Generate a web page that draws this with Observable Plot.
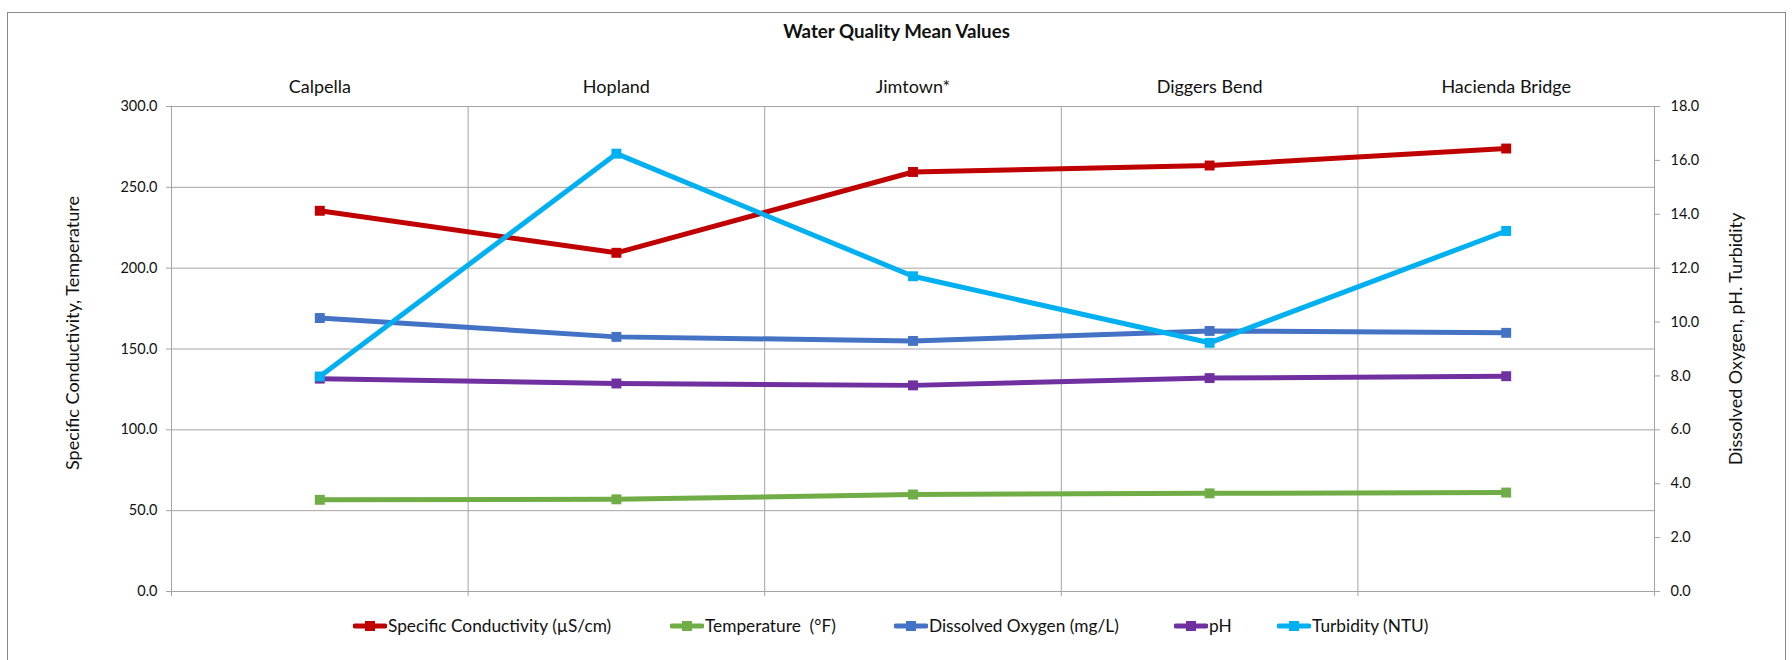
<!DOCTYPE html>
<html>
<head>
<meta charset="utf-8">
<script src="https://cdn.jsdelivr.net/npm/d3@7"></script>
<script src="https://cdn.jsdelivr.net/npm/@observablehq/plot@0.6"></script>
<style>
  html, body { margin: 0; padding: 0; background: #fff; }
  #root { position: relative; width: 1792px; height: 660px; overflow: hidden; font-family: Lato, "Open Sans", sans-serif; color: #111; }
  #frame { position: absolute; left: 7px; top: 12px; width: 1779px; height: 720px; border: 1px solid #8a8a8a; box-sizing: border-box; }
  #chart { position: absolute; left: 0; top: 0; }
  .title { position: absolute; left: 7px; width: 1779px; top: 19px; line-height: 24px; text-align: center; font-weight: bold; font-size: 18.7px; }
  .ytitle { position: absolute; white-space: nowrap; font-size: 18px; line-height: 22px; transform: translate(-50%, -50%) rotate(-90deg); }
  .leg { position: absolute; top: 614px; height: 24px; line-height: 24px; font-size: 17.3px; white-space: pre; display: flex; align-items: center; }
  .leg svg { display: block; margin-right: 1px; }
</style>
</head>
<body>
<div id="root">
  <div id="frame"></div>
  <div id="chart"></div>
  <div class="title">Water Quality Mean Values</div>
  <div class="ytitle" id="ytl" style="left:72px; top:333px;">Specific Conductivity, Temperature</div>
  <div class="ytitle" id="ytr" style="left:1735px; top:339px;">Dissolved Oxygen, pH. Turbidity</div>
  <div id="legend"></div>
</div>
<script>
// ---- data ----
const sites = ["Calpella", "Hopland", "Jimtown*", "Diggers Bend", "Hacienda Bridge"];
const conductivity   = [235.5, 209.5, 259.5, 263.5, 274.0];   // µS/cm, left axis
const temperature    = [56.7, 57.0, 60.0, 60.7, 61.2];        // °F, left axis
const dissolvedOxygen = [10.15, 9.45, 9.3, 9.67, 9.6];        // mg/L, right axis
const pHValues       = [7.9, 7.72, 7.65, 7.92, 7.99];         // right axis
const turbidity      = [7.98, 16.25, 11.7, 9.23, 13.38];      // NTU, right axis
const leftTicks  = [0, 50, 100, 150, 200, 250, 300];
const rightTicks = [0, 2, 4, 6, 8, 10, 12, 14, 16, 18];
const seriesNames = ["Specific Conductivity (µS/cm)", "Temperature  (°F)", "Dissolved Oxygen (mg/L)", "pH", "Turbidity (NTU)"];
const seriesColors = ["#C00000", "#70AD47", "#4472C4", "#7030A0", "#00B0F0"];
const seriesValues = [conductivity, temperature, dissolvedOxygen, pHValues, turbidity];
const seriesAxis = ["left", "left", "right", "right", "right"];

// secondary axis (0–18) mapped onto primary (0–300)
const leftMax = 300, rightMax = 18;
const k = leftMax / rightMax;

const series = seriesNames.map((name, s) => ({
  name,
  color: seriesColors[s],
  rows: seriesValues[s].map((v, i) => ({
    site: sites[i],
    x: i + 0.5,
    y: seriesAxis[s] === "right" ? v * k : v
  }))
}));

const gridColor = "#a3a3a3";
const marks = [
  Plot.gridX({ticks: d3.range(0, sites.length + 1), stroke: gridColor, strokeOpacity: 1}),
  Plot.gridY({ticks: leftTicks, stroke: gridColor, strokeOpacity: 1}),
  Plot.axisX({anchor: "bottom", ticks: d3.range(0, sites.length + 1), tickSize: 5, tickFormat: () => "", stroke: gridColor, label: null}),
  Plot.axisX({anchor: "top", ticks: sites.map((_, i) => i + 0.5), tickFormat: d => sites[Math.round(d - 0.5)], tickSize: 0, tickPadding: 14, fontSize: 18, fill: "#111", label: null}),
  Plot.axisY({anchor: "left", ticks: leftTicks, tickFormat: d => d.toFixed(1), tickSize: 5, tickPadding: 9, stroke: gridColor, fill: "#111", fontSize: 14.5, label: null}),
  Plot.axisY({anchor: "right", ticks: rightTicks.map(v => v * k), tickFormat: d => (d / k).toFixed(1), tickSize: 5, tickPadding: 11, stroke: gridColor, fill: "#111", fontSize: 14.5, label: null})
];
for (const s of series) {
  marks.push(Plot.line(s.rows, {x: "x", y: "y", stroke: s.color, strokeWidth: 5, strokeLinejoin: "round"}));
  marks.push(Plot.dot(s.rows, {x: "x", y: "y", symbol: "square", r: 5.6, fill: s.color, stroke: "none"}));
}

const chart = Plot.plot({
  width: 1792,
  height: 660,
  marginTop: 106,
  marginBottom: 69,
  marginLeft: 171,
  marginRight: 138,
  style: {fontFamily: "Lato, 'Open Sans', sans-serif", color: "#111", background: "transparent"},
  x: {type: "linear", domain: [0, sites.length]},
  y: {domain: [0, leftMax]},
  marks
});
document.getElementById("chart").appendChild(chart);

// ---- legend ----
const legendX = [353, 670, 894, 1174, 1277];
const legend = document.getElementById("legend");
seriesNames.forEach((name, i) => {
  const item = document.createElement("div");
  item.className = "leg";
  item.style.left = legendX[i] + "px";
  const c = seriesColors[i];
  item.innerHTML = `<svg width="34" height="12" viewBox="0 0 34 12"><line x1="2" y1="6" x2="32" y2="6" stroke="${c}" stroke-width="5" stroke-linecap="round"/><rect x="12" y="1" width="10" height="10" fill="${c}"/></svg><span>${name}</span>`;
  legend.appendChild(item);
});
</script>
</body>
</html>
